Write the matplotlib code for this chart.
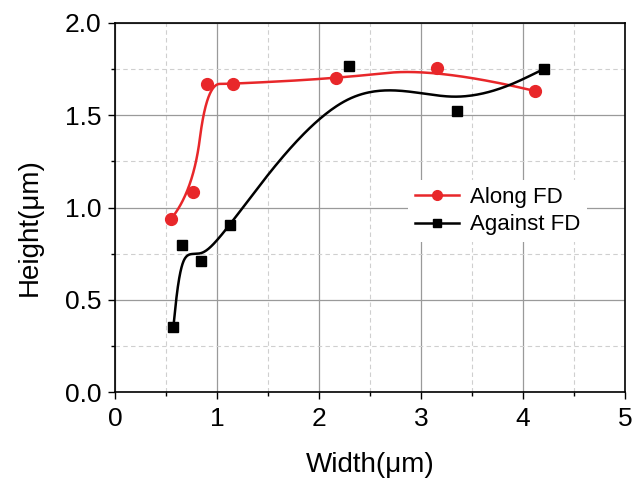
import numpy as np
import matplotlib
matplotlib.use("Agg")
import matplotlib.pyplot as plt
from matplotlib.ticker import MultipleLocator, FormatStrFormatter

along_x = [0.546, 0.765, 0.90, 1.157, 2.167, 3.16, 4.12]
along_y = [0.936, 1.082, 1.67, 1.67, 1.70, 1.758, 1.631]
against_x = [0.572, 0.654, 0.84, 1.127, 2.297, 3.35, 4.21]
against_y = [0.351, 0.798, 0.708, 0.903, 1.769, 1.521, 1.752]


def basis(knots, i, p, t):
    if p == 0:
        return np.where((knots[i] <= t) & (t < knots[i + 1]), 1.0, 0.0)
    a = 0.0
    if knots[i + p] != knots[i]:
        a = (t - knots[i]) / (knots[i + p] - knots[i]) * basis(knots, i, p - 1, t)
    b = 0.0
    if knots[i + p + 1] != knots[i + 1]:
        b = (knots[i + p + 1] - t) / (knots[i + p + 1] - knots[i + 1]) * basis(knots, i + 1, p - 1, t)
    return a + b


def bspline_clamped(px, py, k=2, num=500):
    P = np.column_stack([px, py]).astype(float)
    n = len(P)
    knots = np.concatenate([np.zeros(k), np.linspace(0, 1, n - k + 1), np.ones(k)])
    ts = np.linspace(0, 1 - 1e-9, num)
    B = np.array([basis(knots, i, k, ts) for i in range(n)])
    C = B.T @ P
    C[-1] = P[-1]
    return C[:, 0], C[:, 1]


def bspline_uniform_ends(px, py, k=3, num=500):
    # uniform cubic B-spline with end control points repeated k times
    P = np.column_stack([px, py]).astype(float)
    P = np.vstack([np.repeat(P[:1], k - 1, axis=0), P, np.repeat(P[-1:], k - 1, axis=0)])
    n = len(P)
    knots = np.arange(n + k + 1, dtype=float)
    ts = np.linspace(k, n - 1e-9, num)
    B = np.array([basis(knots, i, k, ts) for i in range(n)])
    C = B.T @ P
    return C[:, 0], C[:, 1]


plt.rcParams['font.family'] = ['Liberation Sans', 'DejaVu Sans']
fig = plt.figure(figsize=(6.37, 4.87), dpi=100)
ax = fig.add_axes([115 / 637, 1 - 392 / 487, 510 / 637, 369 / 487])

ax.set_xlim(0, 5)
ax.set_ylim(0, 2.0)
ax.xaxis.set_major_locator(MultipleLocator(1))
ax.xaxis.set_minor_locator(MultipleLocator(0.5))
ax.yaxis.set_major_locator(MultipleLocator(0.5))
ax.yaxis.set_minor_locator(MultipleLocator(0.25))
ax.yaxis.set_major_formatter(FormatStrFormatter('%.1f'))

ax.grid(which='major', color='#9a9a9a', linewidth=0.9, linestyle='-')
ax.grid(which='minor', color='#cfcfcf', linewidth=0.8, linestyle=(0, (4, 3)))
ax.set_axisbelow(True)

ax.tick_params(which='major', direction='out', length=5, width=1, labelsize=19)
ax.tick_params(axis='x', which='major', pad=6)
ax.tick_params(axis='y', which='major', pad=5)
ax.tick_params(which='minor', direction='out', length=3, width=1)
for s in ax.spines.values():
    s.set_linewidth(1.2)

red = '#e8272a'
rx, ry = bspline_clamped(along_x, along_y, k=2)
ax.plot(rx, ry, color=red, lw=1.8, zorder=3)
ax.plot(along_x, along_y, 'o', color=red, ms=8.5, zorder=4)
bx, by = bspline_uniform_ends(against_x, against_y, k=3)
ax.plot(bx, by, color='black', lw=1.8, zorder=3)
ax.plot(against_x, against_y, 's', color='black', ms=7.5, zorder=4)

h1, = ax.plot([], [], '-o', color=red, lw=1.8, ms=7)
h2, = ax.plot([], [], '-s', color='black', lw=1.8, ms=6)
leg = ax.legend([h1, h2], ['Along FD', 'Against FD'], loc='center left',
                bbox_to_anchor=(408 / 637, 1 - 211 / 487), bbox_transform=fig.transFigure,
                frameon=True, fontsize=16, handlelength=2.0, handletextpad=0.5,
                labelspacing=0.3, borderpad=0.3, borderaxespad=0)
leg.get_frame().set_edgecolor('none')
leg.get_frame().set_facecolor('white')
leg.get_frame().set_alpha(1)
leg.set_zorder(5)

ax.set_xlabel('Width(μm)', fontsize=20)
ax.set_ylabel('Height(μm)', fontsize=20)
ax.xaxis.set_label_coords(0.5, (392 - 452) / 369)
ax.yaxis.set_label_coords((43 - 115) / 510, (392 - 227) / 369)

fig.savefig('out.png', dpi=100)
